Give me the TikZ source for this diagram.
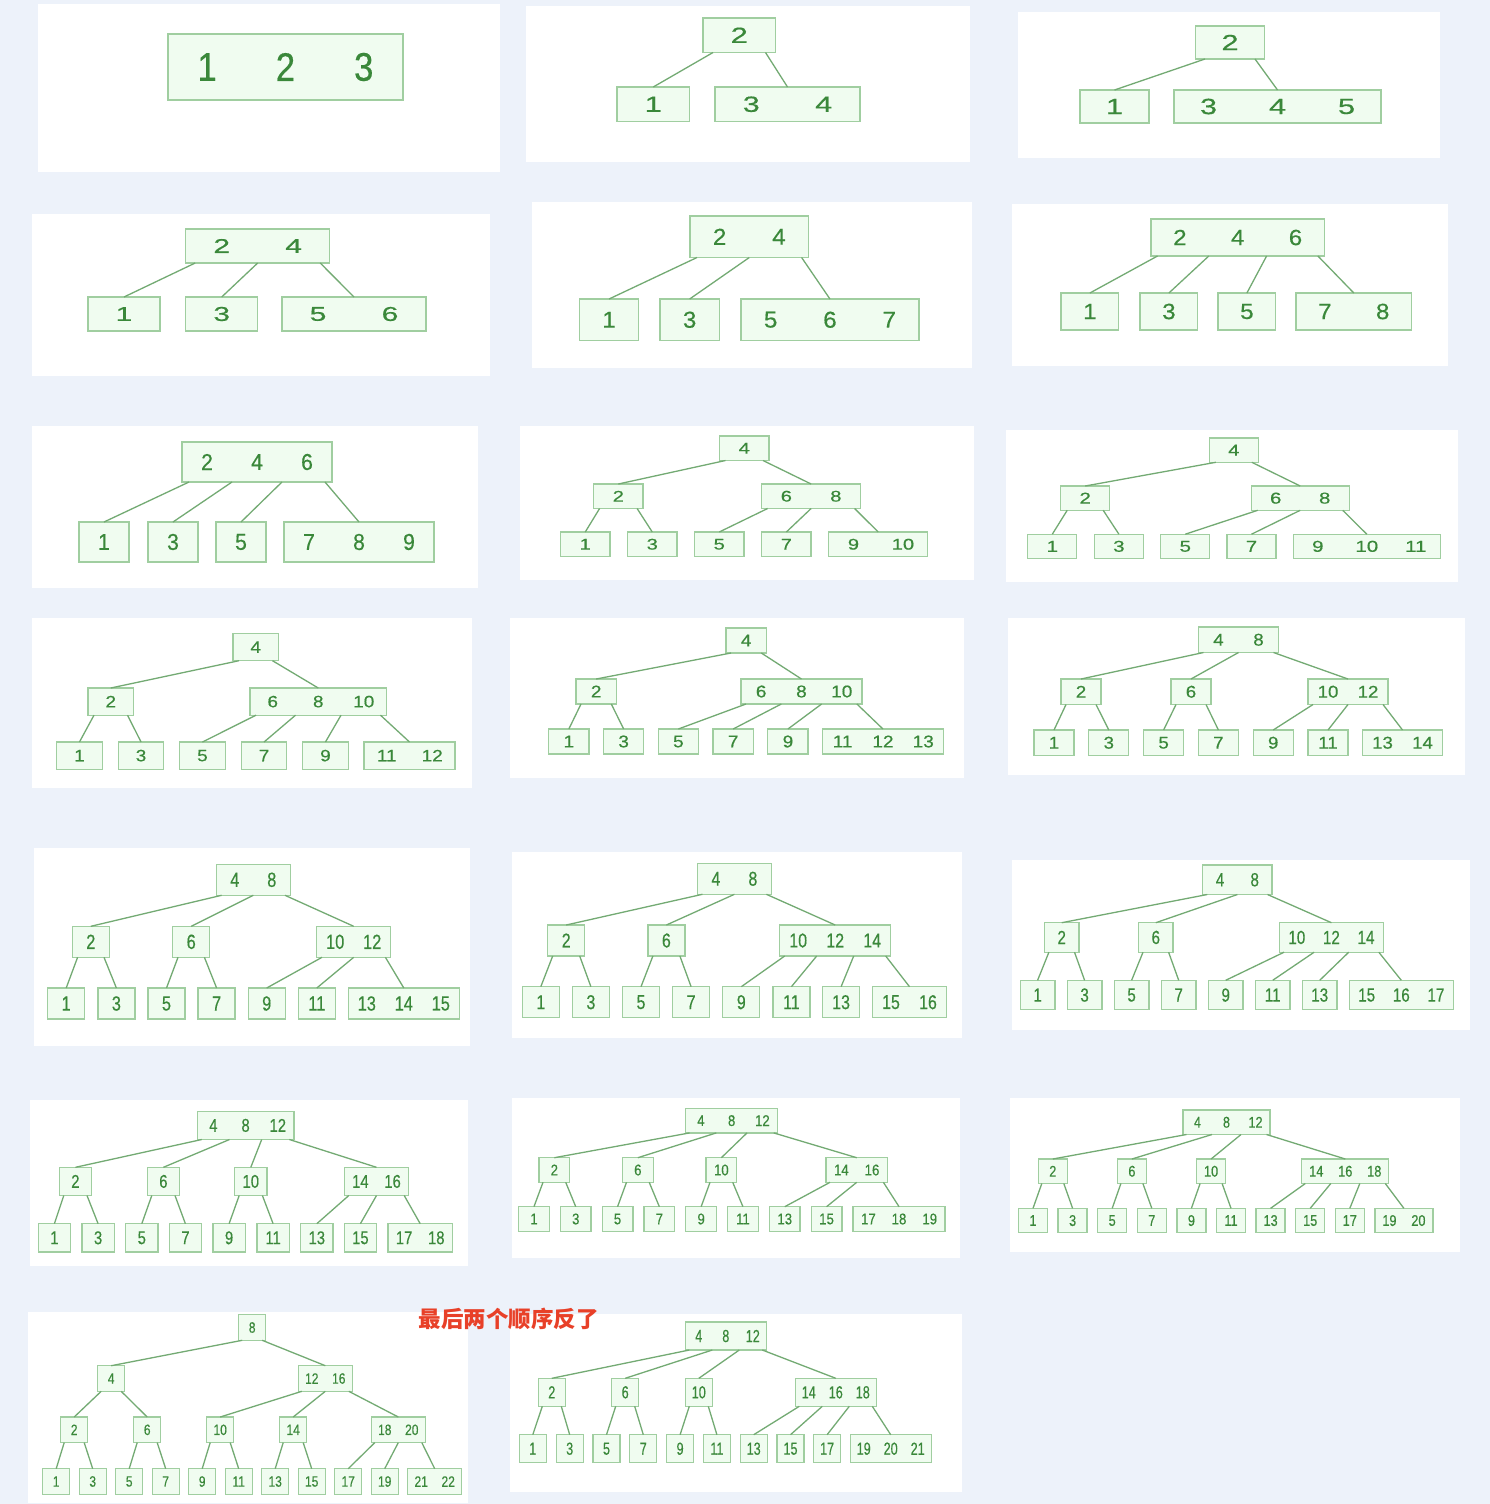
\documentclass[tikz,border=0pt]{standalone}
\usepackage{fontspec}
\usepackage{graphicx}
\setmainfont{Liberation Sans}[FakeBold=0.45]
\newfontfamily\cjk{Noto Sans CJK SC}
\definecolor{bgc}{RGB}{237,242,250}
\definecolor{fillc}{RGB}{240,252,240}
\definecolor{bordc}{RGB}{160,206,160}
\definecolor{edgec}{RGB}{115,170,115}
\definecolor{txtc}{RGB}{58,136,58}
\definecolor{redc}{RGB}{232,64,40}
\newcommand\kfont{\fontsize{\bFS}{\bFS}\selectfont}
\newcommand\PP[5]{\def\bCS{#1}\def\bCH{#2}\def\bDL{#3}\def\bFS{#4}\def\bKX{#5}}
\def\bL{1.3}
\tikzset{
  bbox/.style={draw=bordc, fill=fillc, line width=\bL pt, rectangle, inner sep=0pt, outer sep=0pt},
  keyt/.style={text=txtc, inner sep=0pt, font=\kfont},
  conn/.style={draw=edgec, line width=1.3pt},
  note/.style={text=redc, inner sep=0pt, font={\cjk\bfseries\fontsize{22.5pt}{22.5pt}\selectfont}}
}
\newcommand\BN[5]{%
  \pgfmathsetmacro\bW{#4*\bCS}%
  \node[bbox, minimum width=\bW pt, minimum height=\bCH pt, anchor=north west] (#1) at (#2,#3) {};%
  \foreach \kk [count=\ii] in {#5} {\node[keyt] at ({#2+(\ii-0.5)*\bCS},{#3+0.5*\bCH}) {\scalebox{\bKX}[1]{\kk}};}%
  \coordinate (#1-0) at ({#2+\bDL},{#3+\bCH});%
  \coordinate (#1-#4) at ({#2+\bW-\bDL},{#3+\bCH});%
  \ifnum#4>1\relax
    \pgfmathtruncatemacro\bKm{#4-1}%
    \foreach \jj in {1,...,\bKm} {\coordinate (#1-\jj) at ({#2+\jj*\bCS},{#3+\bCH});}%
  \fi
}
\newcommand\ED[1]{\foreach \a/\b in {#1} {\draw[conn] (\a) -- (\b.north);}}
\begin{document}
\begin{tikzpicture}[x=1pt,y=-1pt]
\useasboundingbox (0,0) rectangle (1490,1504);
\fill[bgc] (0,0) rectangle (1490,1504);
% panels
\fill[white] (38,4) rectangle (500,172);
\fill[white] (526,6) rectangle (970,162);
\fill[white] (1018,12) rectangle (1440,158);
\fill[white] (32,214) rectangle (490,376);
\fill[white] (532,202) rectangle (972,368);
\fill[white] (1012,204) rectangle (1448,366);
\fill[white] (32,426) rectangle (478,588);
\fill[white] (520,426) rectangle (974,580);
\fill[white] (1006,430) rectangle (1458,582);
\fill[white] (32,618) rectangle (472,788);
\fill[white] (510,618) rectangle (964,778);
\fill[white] (1008,618) rectangle (1465,775);
\fill[white] (34,848) rectangle (470,1046);
\fill[white] (512,852) rectangle (962,1038);
\fill[white] (1012,860) rectangle (1470,1030);
\fill[white] (30,1100) rectangle (468,1266);
\fill[white] (512,1098) rectangle (960,1258);
\fill[white] (1010,1098) rectangle (1460,1252);
\fill[white] (28,1312) rectangle (468,1503);
\fill[white] (510,1314) rectangle (962,1492);
% P1
\def\bL{2.5}
\PP{78.3}{66}{10}{40pt}{0.87}
\BN{a0}{168}{34}{3}{1,2,3}
\def\bL{1.3}
% P2
\PP{72.5}{34.5}{10}{22pt}{1.4}
\BN{b0}{703}{18}{1}{2}
\BN{b1}{617}{87}{1}{1}
\BN{b2}{715}{87}{2}{3,4}
\ED{b0-0/b1,b0-1/b2}
% P3
\PP{69}{33}{9.5}{22pt}{1.4}
\BN{c0}{1195.5}{26}{1}{2}
\BN{c1}{1080}{90}{1}{1}
\BN{c2}{1174}{90}{3}{3,4,5}
\ED{c0-0/c1,c0-1/c2}
% P4
\PP{72}{34}{9.5}{20pt}{1.5}
\BN{d0}{185.7}{229}{2}{2,4}
\BN{d1}{88}{297}{1}{1}
\BN{d2}{185.7}{297}{1}{3}
\BN{d3}{282}{297}{2}{5,6}
\ED{d0-0/d1,d0-1/d2,d0-2/d3}
% P5
\PP{59.3}{41.5}{7}{23pt}{1.05}
\BN{e0}{690}{216}{2}{2,4}
\BN{e1}{579.4}{299}{1}{1}
\BN{e2}{660}{299}{1}{3}
\BN{e3}{741}{299}{3}{5,6,7}
\ED{e0-0/e1,e0-1/e2,e0-2/e3}
% P6
\PP{57.8}{37}{6.5}{22pt}{1.1}
\BN{f0}{1151}{219}{3}{2,4,6}
\BN{f1}{1061}{293}{1}{1}
\BN{f2}{1140}{293}{1}{3}
\BN{f3}{1218}{293}{1}{5}
\BN{f4}{1296}{293}{2}{7,8}
\ED{f0-0/f1,f0-1/f2,f0-2/f3,f0-3/f4}
% P7
\PP{50}{40}{7}{23pt}{0.92}
\BN{g0}{182}{442}{3}{2,4,6}
\BN{g1}{79}{522}{1}{1}
\BN{g2}{148}{522}{1}{3}
\BN{g3}{216}{522}{1}{5}
\BN{g4}{284}{522}{3}{7,8,9}
\ED{g0-0/g1,g0-1/g2,g0-2/g3,g0-3/g4}
% P8
\PP{49.5}{24.5}{6}{15.5pt}{1.3}
\BN{h0}{719.5}{436}{1}{4}
\BN{h1}{593.6}{484}{1}{2}
\BN{h2}{761.6}{484}{2}{6,8}
\BN{h3}{560.5}{532}{1}{1}
\BN{h4}{627.5}{532}{1}{3}
\BN{h5}{694.5}{532}{1}{5}
\BN{h6}{761.6}{532}{1}{7}
\BN{h7}{828.7}{532}{2}{9,10}
\ED{h0-0/h1,h0-1/h2,h1-0/h3,h1-1/h4,h2-0/h5,h2-1/h6,h2-2/h7}
% P9
\PP{49}{24.3}{6.5}{15.8pt}{1.3}
\BN{i0}{1209.3}{438}{1}{4}
\BN{i1}{1060.7}{486}{1}{2}
\BN{i2}{1251.2}{486}{2}{6,8}
\BN{i3}{1027.8}{534.2}{1}{1}
\BN{i4}{1094.4}{534.2}{1}{3}
\BN{i5}{1160.8}{534.2}{1}{5}
\BN{i6}{1227}{534.2}{1}{7}
\BN{i7}{1293.3}{534.2}{3}{9,10,11}
\ED{i0-0/i1,i0-1/i2,i1-0/i3,i1-1/i4,i2-0/i5,i2-1/i6,i2-2/i7}
% P10
\PP{45.5}{27.2}{6}{16.5pt}{1.15}
\BN{j0}{233}{633.5}{1}{4}
\BN{j1}{88}{688}{1}{2}
\BN{j2}{250}{688}{3}{6,8,10}
\BN{j3}{56.7}{742}{1}{1}
\BN{j4}{118.3}{742}{1}{3}
\BN{j5}{179.7}{742}{1}{5}
\BN{j6}{241.3}{742}{1}{7}
\BN{j7}{302.7}{742}{1}{9}
\BN{j8}{364}{742}{2}{11,12}
\ED{j0-0/j1,j0-1/j2,j1-0/j3,j1-1/j4,j2-0/j5,j2-1/j6,j2-2/j7,j2-3/j8}
% P11
\PP{40.3}{25}{5}{17pt}{1.12}
\BN{k0}{726}{628}{1}{4}
\BN{k1}{576}{679}{1}{2}
\BN{k2}{741}{679}{3}{6,8,10}
\BN{k3}{548.7}{729}{1}{1}
\BN{k4}{603.5}{729}{1}{3}
\BN{k5}{658.2}{729}{1}{5}
\BN{k6}{713}{729}{1}{7}
\BN{k7}{767.8}{729}{1}{9}
\BN{k8}{822.5}{729}{3}{11,12,13}
\ED{k0-0/k1,k0-1/k2,k1-0/k3,k1-1/k4,k2-0/k5,k2-1/k6,k2-2/k7,k2-3/k8}
% P12
\PP{40}{25.5}{5}{17pt}{1.1}
\BN{l0}{1198.5}{627}{2}{4,8}
\BN{l1}{1061}{679}{1}{2}
\BN{l2}{1171}{679}{1}{6}
\BN{l3}{1308}{679}{2}{10,12}
\BN{l4}{1034}{730}{1}{1}
\BN{l5}{1088.8}{730}{1}{3}
\BN{l6}{1143.6}{730}{1}{5}
\BN{l7}{1198.4}{730}{1}{7}
\BN{l8}{1253.2}{730}{1}{9}
\BN{l9}{1308}{730}{1}{11}
\BN{l10}{1362.5}{730}{2}{13,14}
\ED{l0-0/l1,l0-1/l2,l0-2/l3,l1-0/l4,l1-1/l5,l2-0/l6,l2-1/l7,l3-0/l8,l3-1/l9,l3-2/l10}
% P13
\PP{37}{31}{5.3}{20.5pt}{0.8}
\BN{m0}{216.3}{864.3}{2}{4,8}
\BN{m1}{72.3}{926.3}{1}{2}
\BN{m2}{172.7}{926.3}{1}{6}
\BN{m3}{316.7}{926.3}{2}{10,12}
\BN{m4}{47.7}{988}{1}{1}
\BN{m5}{97.9}{988}{1}{3}
\BN{m6}{148}{988}{1}{5}
\BN{m7}{198.1}{988}{1}{7}
\BN{m8}{248.2}{988}{1}{9}
\BN{m9}{298.3}{988}{1}{11}
\BN{m10}{348.3}{988}{3}{13,14,15}
\ED{m0-0/m1,m0-1/m2,m0-2/m3,m1-0/m4,m1-1/m5,m2-0/m6,m2-1/m7,m3-0/m8,m3-1/m9,m3-2/m10}
% P14
\PP{37}{31}{5}{20pt}{0.8}
\BN{n0}{697.4}{863.3}{2}{4,8}
\BN{n1}{547.7}{925}{1}{2}
\BN{n2}{647.9}{925}{1}{6}
\BN{n3}{779.7}{925}{3}{10,12,14}
\BN{n4}{522.3}{986.7}{1}{1}
\BN{n5}{572.4}{986.7}{1}{3}
\BN{n6}{622.5}{986.7}{1}{5}
\BN{n7}{672.6}{986.7}{1}{7}
\BN{n8}{722.8}{986.7}{1}{9}
\BN{n9}{772.9}{986.7}{1}{11}
\BN{n10}{822.6}{986.7}{1}{13}
\BN{n11}{872.5}{986.7}{2}{15,16}
\ED{n0-0/n1,n0-1/n2,n0-2/n3,n1-0/n4,n1-1/n5,n2-0/n6,n2-1/n7,n3-0/n8,n3-1/n9,n3-2/n10,n3-3/n11}
% P15
\PP{34.6}{29.5}{4.5}{19pt}{0.8}
\BN{o0}{1202.8}{865}{2}{4,8}
\BN{o1}{1044.4}{922.7}{1}{2}
\BN{o2}{1138.5}{922.7}{1}{6}
\BN{o3}{1279.5}{922.7}{3}{10,12,14}
\BN{o4}{1020.3}{980.3}{1}{1}
\BN{o5}{1067.3}{980.3}{1}{3}
\BN{o6}{1114.3}{980.3}{1}{5}
\BN{o7}{1161.4}{980.3}{1}{7}
\BN{o8}{1208.4}{980.3}{1}{9}
\BN{o9}{1255.4}{980.3}{1}{11}
\BN{o10}{1302.4}{980.3}{1}{13}
\BN{o11}{1349.4}{980.3}{3}{15,16,17}
\ED{o0-0/o1,o0-1/o2,o0-2/o3,o1-0/o4,o1-1/o5,o2-0/o6,o2-1/o7,o3-0/o8,o3-1/o9,o3-2/o10,o3-3/o11}
% P16
\PP{32.2}{28.2}{4.5}{18.5pt}{0.8}
\BN{p0}{197.3}{1111.3}{3}{4,8,12}
\BN{p1}{59.3}{1167.3}{1}{2}
\BN{p2}{147.3}{1167.3}{1}{6}
\BN{p3}{234.7}{1167.3}{1}{10}
\BN{p4}{344.3}{1167.3}{2}{14,16}
\BN{p5}{38.3}{1223.7}{1}{1}
\BN{p6}{82}{1223.7}{1}{3}
\BN{p7}{125.7}{1223.7}{1}{5}
\BN{p8}{169.3}{1223.7}{1}{7}
\BN{p9}{213}{1223.7}{1}{9}
\BN{p10}{257}{1223.7}{1}{11}
\BN{p11}{300.7}{1223.7}{1}{13}
\BN{p12}{344.3}{1223.7}{1}{15}
\BN{p13}{388}{1223.7}{2}{17,18}
\ED{p0-0/p1,p0-1/p2,p0-2/p3,p0-3/p4,p1-0/p5,p1-1/p6,p2-0/p7,p2-1/p8,p3-0/p9,p3-1/p10,p4-0/p11,p4-1/p12,p4-2/p13}
% P17
\PP{30.7}{24.6}{4}{15.5pt}{0.85}
\BN{q0}{685.6}{1108.3}{3}{4,8,12}
\BN{q1}{539}{1157.7}{1}{2}
\BN{q2}{622.5}{1157.7}{1}{6}
\BN{q3}{706}{1157.7}{1}{10}
\BN{q4}{826}{1157.7}{2}{14,16}
\BN{q5}{518.6}{1206.7}{1}{1}
\BN{q6}{560.4}{1206.7}{1}{3}
\BN{q7}{602.2}{1206.7}{1}{5}
\BN{q8}{644}{1206.7}{1}{7}
\BN{q9}{685.8}{1206.7}{1}{9}
\BN{q10}{727.6}{1206.7}{1}{11}
\BN{q11}{769.4}{1206.7}{1}{13}
\BN{q12}{811.2}{1206.7}{1}{15}
\BN{q13}{853}{1206.7}{3}{17,18,19}
\ED{q0-0/q1,q0-1/q2,q0-2/q3,q0-3/q4,q1-0/q5,q1-1/q6,q2-0/q7,q2-1/q8,q3-0/q9,q3-1/q10,q4-0/q11,q4-1/q12,q4-2/q13}
% P18
\PP{29}{24.5}{3.5}{15.5pt}{0.82}
\BN{r0}{1183}{1110}{3}{4,8,12}
\BN{r1}{1038.3}{1159}{1}{2}
\BN{r2}{1117.4}{1159}{1}{6}
\BN{r3}{1196.6}{1159}{1}{10}
\BN{r4}{1301.8}{1159}{3}{14,16,18}
\BN{r5}{1018.5}{1208.3}{1}{1}
\BN{r6}{1058.1}{1208.3}{1}{3}
\BN{r7}{1097.7}{1208.3}{1}{5}
\BN{r8}{1137.3}{1208.3}{1}{7}
\BN{r9}{1176.9}{1208.3}{1}{9}
\BN{r10}{1216.5}{1208.3}{1}{11}
\BN{r11}{1256.1}{1208.3}{1}{13}
\BN{r12}{1295.7}{1208.3}{1}{15}
\BN{r13}{1335.3}{1208.3}{1}{17}
\BN{r14}{1374.9}{1208.3}{2}{19,20}
\ED{r0-0/r1,r0-1/r2,r0-2/r3,r0-3/r4,r1-0/r5,r1-1/r6,r2-0/r7,r2-1/r8,r3-0/r9,r3-1/r10,r4-0/r11,r4-1/r12,r4-2/r13,r4-3/r14}
% P19
\PP{27}{25.6}{3.5}{15pt}{0.8}
\BN{s0}{238.7}{1314.7}{1}{8}
\BN{s1}{97.7}{1365.7}{1}{4}
\BN{s2}{298.3}{1365.7}{2}{12,16}
\BN{s3}{60.7}{1417}{1}{2}
\BN{s4}{133.7}{1417}{1}{6}
\BN{s5}{206.7}{1417}{1}{10}
\BN{s6}{279.7}{1417}{1}{14}
\BN{s7}{371.3}{1417}{2}{18,20}
\BN{s8}{42.7}{1468.7}{1}{1}
\BN{s9}{79.2}{1468.7}{1}{3}
\BN{s10}{115.7}{1468.7}{1}{5}
\BN{s11}{152.2}{1468.7}{1}{7}
\BN{s12}{188.7}{1468.7}{1}{9}
\BN{s13}{225.2}{1468.7}{1}{11}
\BN{s14}{261.7}{1468.7}{1}{13}
\BN{s15}{298.2}{1468.7}{1}{15}
\BN{s16}{334.7}{1468.7}{1}{17}
\BN{s17}{371.2}{1468.7}{1}{19}
\BN{s18}{407.7}{1468.7}{2}{21,22}
\ED{s0-0/s1,s0-1/s2,s1-0/s3,s1-1/s4,s2-0/s5,s2-1/s6,s2-2/s7,s3-0/s8,s3-1/s9,s4-0/s10,s4-1/s11,s5-0/s12,s5-1/s13,s6-0/s14,s6-1/s15,s7-0/s16,s7-1/s17,s7-2/s18}
% P20
\PP{27}{28}{4}{17.5pt}{0.72}
\BN{t0}{685.3}{1322}{3}{4,8,12}
\BN{t1}{538.3}{1378.3}{1}{2}
\BN{t2}{611.7}{1378.3}{1}{6}
\BN{t3}{685.3}{1378.3}{1}{10}
\BN{t4}{795.3}{1378.3}{3}{14,16,18}
\BN{t5}{519.3}{1434.7}{1}{1}
\BN{t6}{556.2}{1434.7}{1}{3}
\BN{t7}{593}{1434.7}{1}{5}
\BN{t8}{629.8}{1434.7}{1}{7}
\BN{t9}{666.6}{1434.7}{1}{9}
\BN{t10}{703.4}{1434.7}{1}{11}
\BN{t11}{740.2}{1434.7}{1}{13}
\BN{t12}{777}{1434.7}{1}{15}
\BN{t13}{813.6}{1434.7}{1}{17}
\BN{t14}{850.2}{1434.7}{3}{19,20,21}
\ED{t0-0/t1,t0-1/t2,t0-2/t3,t0-3/t4,t1-0/t5,t1-1/t6,t2-0/t7,t2-1/t8,t3-0/t9,t3-1/t10,t4-0/t11,t4-1/t12,t4-2/t13,t4-3/t14}
% note
\node[note] (note) at (508.5,1319) {最后两个顺序反了};
\end{tikzpicture}
\end{document}
